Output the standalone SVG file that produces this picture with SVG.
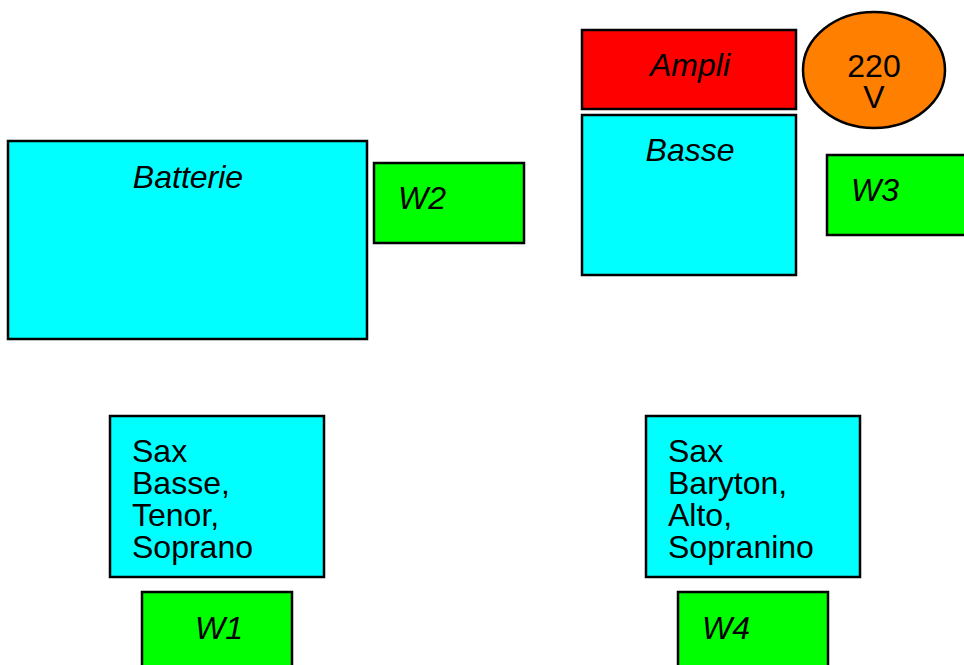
<svg xmlns="http://www.w3.org/2000/svg" width="964" height="665" viewBox="0 0 964 665">
<style>
rect, ellipse { stroke: #000; stroke-width: 2.5; }
.c { fill: #00ffff; }
.g { fill: #00ff00; }
.r { fill: #ff0000; }
.o { fill: #ff8000; }
text { font-family: "Liberation Sans", Arial, sans-serif; font-size: 32px; fill: #000; }
.i { font-style: italic; }
.m { text-anchor: middle; }
</style>
<rect width="964" height="665" fill="#fff" style="stroke:none"/>
<g id="ampli"><rect class="r" x="582" y="30" width="214" height="79"/><text class="i m" x="690" y="76">Ampli</text></g>
<g id="v220"><ellipse class="o" cx="874" cy="70" rx="71" ry="58"/><text class="m" x="874" y="77">220</text><text class="m" x="874" y="108">V</text></g>
<g id="basse"><rect class="c" x="582" y="115" width="214" height="160"/><text class="i m" x="690" y="161">Basse</text></g>
<g id="w3"><rect class="g" x="827" y="155" width="150" height="80"/><text class="i" x="851" y="201">W3</text></g>
<g id="batterie"><rect class="c" x="8" y="141" width="359" height="198"/><text class="i m" x="188" y="188">Batterie</text></g>
<g id="w2"><rect class="g" x="374" y="163" width="150" height="80"/><text class="i" x="398" y="209">W2</text></g>
<g id="sax1"><rect class="c" x="110" y="416" width="214" height="161"/><text x="132" y="462">Sax</text><text x="132" y="494">Basse,</text><text x="132" y="526">Tenor,</text><text x="132" y="558">Soprano</text></g>
<g id="w1"><rect class="g" x="142" y="592" width="150" height="80"/><text class="i" x="195" y="639">W1</text></g>
<g id="sax2"><rect class="c" x="646" y="416" width="214" height="161"/><text x="668" y="462">Sax</text><text x="668" y="494">Baryton,</text><text x="668" y="526">Alto,</text><text x="668" y="558">Sopranino</text></g>
<g id="w4"><rect class="g" x="678" y="592" width="150" height="80"/><text class="i" x="702" y="639">W4</text></g>
</svg>
